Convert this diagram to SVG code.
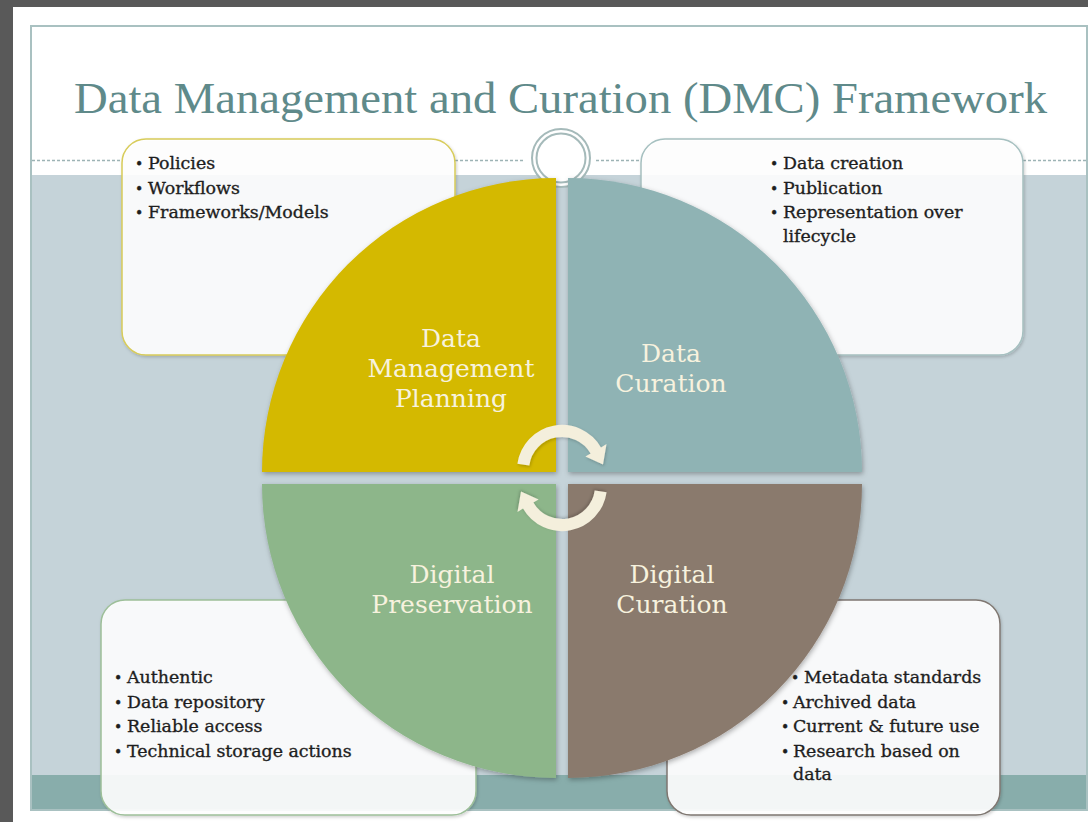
<svg xmlns="http://www.w3.org/2000/svg" width="1088" height="822" viewBox="0 0 1088 822">
  <defs>
    <style>
      .title { font-family: "Liberation Serif", "Times New Roman", serif; font-size: 44px; fill: #5f8a8a; }
      .label { font-family: "DejaVu Serif", Georgia, serif; font-size: 25px; fill: #f7f2de; text-anchor: middle; }
      .item { font-family: "DejaVu Serif", Georgia, serif; font-size: 17.4px; fill: #1e1e1e; stroke: #1e1e1e; stroke-width: 0.35px; }
      .item .b { font-size: 14px; }
      .note { fill: #ffffff; fill-opacity: 0.9; stroke-width: 1.5; filter: url(#soft); }
      .dash { stroke: #9db3b5; stroke-width: 1.5; stroke-dasharray: 3 2; fill: none; }
      .quad { filter: url(#shade); }
      .cycle { fill: #f4efdc; filter: url(#soft); }
    </style>
    <filter id="shade" x="-10%" y="-10%" width="120%" height="120%">
      <feDropShadow dx="1" dy="2" stdDeviation="2.5" flood-color="#000" flood-opacity="0.3"/>
    </filter>
    <filter id="soft" x="-10%" y="-10%" width="120%" height="120%">
      <feDropShadow dx="1" dy="1.5" stdDeviation="1.5" flood-color="#000" flood-opacity="0.2"/>
    </filter>
    <!-- one curved cycle arrow; the second is the same shape turned half a turn -->
    <path id="cycle-arrow" d="M 517.4 463.7 A 45 45 0 0 1 601 447.5 L 606.5 444 L 603 464.5 L 585.4 456.5 L 590.6 453.5 A 33 33 0 0 0 529.3 465.4 Z"/>
  </defs>

  <!-- slide backdrop -->
  <rect x="0" y="0" width="1088" height="822" fill="#595959"/>
  <rect x="13" y="7" width="1075" height="815" fill="#ffffff"/>
  <rect x="31" y="175" width="1056" height="600" fill="#c5d3d9"/>
  <rect x="31" y="775" width="1056" height="35" fill="#88adab"/>
  <rect x="31" y="26" width="1056" height="784" fill="none" stroke="#a9c1c1" stroke-width="2"/>

  <text class="title" x="74" y="113" textLength="973" lengthAdjust="spacingAndGlyphs">Data Management and Curation (DMC) Framework</text>

  <!-- dashed rule under the title, broken by the boxes and the ring -->
  <g id="rule">
    <line class="dash" x1="32" y1="160.5" x2="122" y2="160.5"/>
    <line class="dash" x1="455" y1="160.5" x2="524" y2="160.5"/>
    <line class="dash" x1="596" y1="160.5" x2="641" y2="160.5"/>
    <line class="dash" x1="1023" y1="160.5" x2="1087" y2="160.5"/>
  </g>

  <g id="ring">
    <circle cx="561" cy="158" r="29" fill="#ffffff" stroke="#a5baba" stroke-width="2"/>
    <circle cx="561" cy="158" r="24.5" fill="#ffffff" stroke="#a5baba" stroke-width="2"/>
  </g>

  <!-- note boxes behind the wheel -->
  <g id="note-planning">
    <rect class="note" x="122" y="139" width="333" height="216" rx="24" stroke="#d8cc5a"/>
  </g>
  <g id="note-data-curation">
    <rect class="note" x="641" y="139" width="382" height="216" rx="24" stroke="#a6c0c0"/>
  </g>
  <g id="note-preservation">
    <rect class="note" x="101" y="600" width="375" height="215" rx="24" stroke="#9dbf99"/>
  </g>
  <g id="note-digital-curation">
    <rect class="note" x="667" y="600" width="333" height="215" rx="24" stroke="#7f7771"/>
  </g>

  <!-- the four quarters of the wheel -->
  <g id="data-management-planning">
    <path class="quad" d="M 556 472 L 262 472 A 294 294 0 0 1 556 178 Z" fill="#d4b900"/>
    <text class="label" x="451" y="347">Data</text>
    <text class="label" x="451" y="377">Management</text>
    <text class="label" x="451" y="407">Planning</text>
  </g>
  <g id="data-curation">
    <path class="quad" d="M 568 472 L 568 178 A 294 294 0 0 1 862 472 Z" fill="#8fb3b4"/>
    <text class="label" x="671" y="362">Data</text>
    <text class="label" x="671" y="392">Curation</text>
  </g>
  <g id="digital-preservation">
    <path class="quad" d="M 556 484 L 556 778 A 294 294 0 0 1 262 484 Z" fill="#8db68a"/>
    <text class="label" x="452" y="583">Digital</text>
    <text class="label" x="452" y="613">Preservation</text>
  </g>
  <g id="digital-curation">
    <path class="quad" d="M 568 484 L 862 484 A 294 294 0 0 1 568 778 Z" fill="#8a7a6d"/>
    <text class="label" x="672" y="583">Digital</text>
    <text class="label" x="672" y="613">Curation</text>
  </g>

  <!-- cycle arrows in the middle of the wheel -->
  <g id="connectors">
    <use href="#cycle-arrow" class="cycle"/>
    <use href="#cycle-arrow" class="cycle" transform="rotate(180 562 478)"/>
  </g>

  <!-- note texts -->
  <g id="note-planning-text" class="item">
    <text y="169"><tspan class="b" x="135">•</tspan><tspan x="148">Policies</tspan></text>
    <text y="193.5"><tspan class="b" x="135">•</tspan><tspan x="148">Workflows</tspan></text>
    <text y="218"><tspan class="b" x="135">•</tspan><tspan x="148">Frameworks/Models</tspan></text>
  </g>
  <g id="note-data-curation-text" class="item">
    <text y="169"><tspan class="b" x="770">•</tspan><tspan x="783">Data creation</tspan></text>
    <text y="193.5"><tspan class="b" x="770">•</tspan><tspan x="783">Publication</tspan></text>
    <text y="218"><tspan class="b" x="770">•</tspan><tspan x="783">Representation over</tspan></text>
    <text y="242" x="783">lifecycle</text>
  </g>
  <g id="note-preservation-text" class="item">
    <text y="683"><tspan class="b" x="114">•</tspan><tspan x="127">Authentic</tspan></text>
    <text y="707.5"><tspan class="b" x="114">•</tspan><tspan x="127">Data repository</tspan></text>
    <text y="732"><tspan class="b" x="114">•</tspan><tspan x="127">Reliable access</tspan></text>
    <text y="756.5"><tspan class="b" x="114">•</tspan><tspan x="127">Technical storage actions</tspan></text>
  </g>
  <g id="note-digital-curation-text" class="item">
    <text y="683"><tspan class="b" x="791">•</tspan><tspan x="804">Metadata standards</tspan></text>
    <text y="707.5"><tspan class="b" x="781">•</tspan><tspan x="793">Archived data</tspan></text>
    <text y="732"><tspan class="b" x="781">•</tspan><tspan x="793">Current &amp; future use</tspan></text>
    <text y="756.5"><tspan class="b" x="781">•</tspan><tspan x="793">Research based on</tspan></text>
    <text y="780" x="793">data</text>
  </g>
</svg>
